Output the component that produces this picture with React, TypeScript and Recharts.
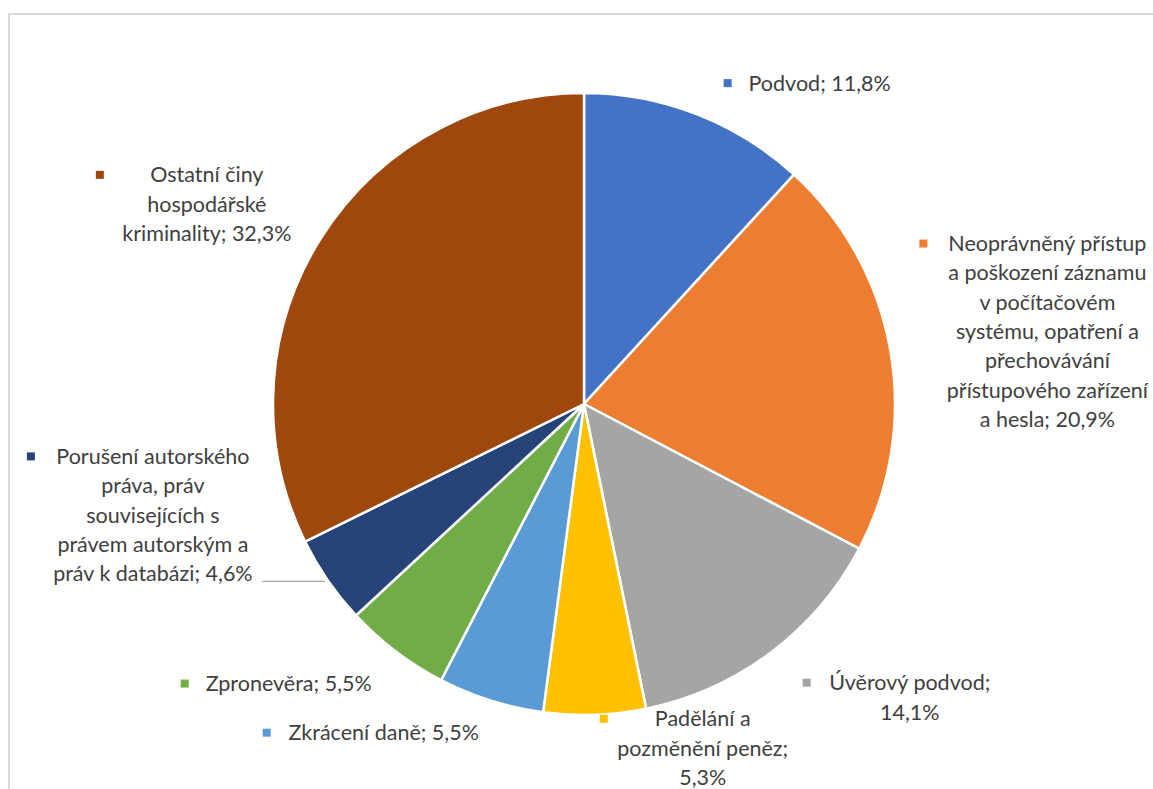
import React from 'react'
import { PieChart, Pie, Cell } from 'recharts'

const categories = [
  'Podvod',
  'Neoprávněný přístup a poškození záznamu v počítačovém systému, opatření a přechovávání přístupového zařízení a hesla',
  'Úvěrový podvod',
  'Padělání a pozměnění peněz',
  'Zkrácení daně',
  'Zpronevěra',
  'Porušení autorského práva, práv souvisejících s právem autorským a práv k databázi',
  'Ostatní činy hospodářské kriminality',
]
const shares = [11.8, 20.9, 14.1, 5.3, 5.5, 5.5, 4.6, 32.3]
const colors = ['#4472C4', '#ED7D31', '#A5A5A5', '#FFC000', '#5B9BD5', '#70AD47', '#264478', '#9E480E']

// wrapped label text as Excel draws it
const labelLines = [
  ['Podvod; 11,8%'],
  ['Neoprávněný přístup', 'a poškození záznamu', 'v počítačovém', 'systému, opatření a', 'přechovávání', 'přístupového zařízení', 'a hesla; 20,9%'],
  ['Úvěrový podvod;', '14,1%'],
  ['Padělání a', 'pozměnění peněz;', '5,3%'],
  ['Zkrácení daně; 5,5%'],
  ['Zpronevěra; 5,5%'],
  ['Porušení autorského', 'práva, práv', 'souvisejících s', 'právem autorským a', 'práv k databázi; 4,6%'],
  ['Ostatní činy', 'hospodářské', 'kriminality; 32,3%'],
]

// label placement relative to the slice's outer arc midpoint
const labelPos = [
  { tx: 123, ty: -31, sx: 31 },
  { tx: 157, ty: -107, sx: 33 },
  { tx: 139, ty: 30, sx: 36 },
  { tx: 108, ty: 4, sx: 9 },
  { tx: -107, ty: 32, sx: -224 },
  { tx: -107, ty: 32, sx: -211 },
  { tx: -175, ty: -124, sx: -297, leader: -66 },
  { tx: -113, ty: -65, sx: -220 },
]

const data = categories.map((name, i) => ({ name, value: shares[i] }))

const RAD = Math.PI / 180
const LINE_H = 29.3

function renderLabel(props: any) {
  const { cx, cy, midAngle, outerRadius, index } = props
  const ax = cx + outerRadius * Math.cos(-midAngle * RAD)
  const ay = cy + outerRadius * Math.sin(-midAngle * RAD)
  const p = labelPos[index]
  const lines = labelLines[index]
  const x = ax + p.tx
  const y = ay + p.ty
  return (
    <g key={`lbl-${index}`}>
      {p.leader !== undefined && (
        <line x1={ax + p.leader} y1={ay + 1} x2={ax - 3} y2={ay + 1} stroke="#A6A6A6" strokeWidth={1.3} />
      )}
      <rect x={ax + p.sx - 4} y={y - 4} width={8} height={8} fill={colors[index]} />
      <text
        x={x}
        y={y}
        textAnchor="middle"
        fill="#404040"
        fontSize={21.5}
        fontFamily="Lato, 'Open Sans', sans-serif"
      >
        {lines.map((l, j) => (
          <tspan key={j} x={x} y={y + j * LINE_H} dy="0.35em">
            {l}
          </tspan>
        ))}
      </text>
    </g>
  )
}

export default function App() {
  return (
    <div style={{ position: 'fixed', left: 0, top: 0, width: 1153, height: 789, overflow: 'hidden', background: '#fff' }}>
      <div
        style={{
          position: 'absolute',
          left: 8,
          top: 13,
          width: 1145,
          height: 776,
          borderLeft: '2px solid #D9D9D9',
          borderTop: '2px solid #D9D9D9',
          boxSizing: 'border-box',
        }}
      >
        <PieChart width={1143} height={774} margin={{ top: 0, right: 0, bottom: 0, left: 0 }}>
          <Pie
            data={data}
            dataKey="value"
            nameKey="name"
            cx={574}
            cy={389}
            outerRadius={311}
            startAngle={90}
            endAngle={-270}
            stroke="#fff"
            strokeWidth={2.5}
            label={renderLabel}
            labelLine={false}
            isAnimationActive={false}
          >
            {data.map((d, i) => (
              <Cell key={d.name} fill={colors[i]} />
            ))}
          </Pie>
        </PieChart>
      </div>
    </div>
  )
}
